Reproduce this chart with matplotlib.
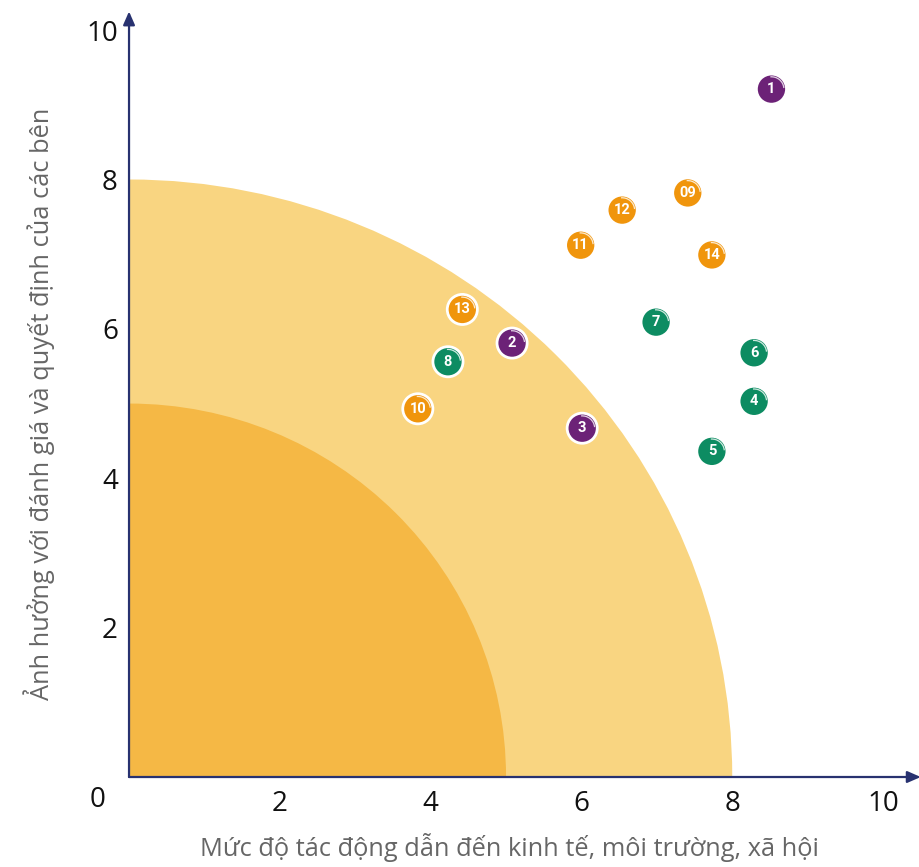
import matplotlib
matplotlib.use('Agg')
from matplotlib import pyplot as plt
from matplotlib.patches import Wedge, Arc

plt.rcParams['font.family'] = ['Open Sans', 'DejaVu Sans']

# stakeholder points
labels = ['1', '2', '3', '4', '5', '6', '7', '8', '09', '10', '11', '12', '13', '14']
x_vals = [8.52, 5.08, 6.01, 8.29, 7.73, 8.29, 6.99, 4.23, 7.41, 3.83, 5.99, 6.54, 4.42, 7.73]
y_vals = [9.21, 5.81, 4.67, 5.03, 4.36, 5.68, 6.09, 5.56, 7.82, 4.93, 7.12, 7.59, 6.26, 6.99]
groups = ['p', 'p', 'p', 'g', 'g', 'g', 'g', 'g', 'o', 'o', 'o', 'o', 'o', 'o']

GROUP_COLORS = {'p': '#6c2277', 'g': '#0d8c62', 'o': '#f0950c'}
AXIS_COLOR = '#283270'

ticks = [2, 4, 6, 8, 10]
zone_radii = [8, 5]
zone_colors = ['#f9d581', '#f5b845']

fig = plt.figure(figsize=(9.19, 8.67), dpi=100)
ax = fig.add_axes([0.1404, 0.1038, 0.8615, 0.883])
ax.set_xlim(0, 10.5)
ax.set_ylim(0, 10.25)

for r, c in zip(zone_radii, zone_colors):
    ax.add_patch(Wedge((0, 0), r, 0, 90, facecolor=c, edgecolor='none', zorder=1))

for sp in ax.spines.values():
    sp.set_visible(False)

# axes with arrow heads
ax.annotate('', xy=(1.0, 0), xycoords='axes fraction', xytext=(0, 0),
            arrowprops=dict(arrowstyle='-|>,head_length=0.8,head_width=0.35',
                            color=AXIS_COLOR, lw=1.6, shrinkA=0, shrinkB=0), zorder=3)
ax.annotate('', xy=(0, 1.0), xycoords='axes fraction', xytext=(0, 0),
            arrowprops=dict(arrowstyle='-|>,head_length=0.8,head_width=0.35',
                            color=AXIS_COLOR, lw=1.6, shrinkA=0, shrinkB=0), zorder=3)

ax.set_xticks(ticks)
ax.set_yticks(ticks)
ax.tick_params(length=0, labelsize=20, labelcolor='#111111')
ax.tick_params(axis='x', pad=9)
ax.tick_params(axis='y', pad=8)
ax.text(-0.42, -0.31, '0', fontsize=20, color='#111111', ha='center', va='center')

ax.set_xlabel('Mức độ tác động dẫn đến kinh tế, môi trường, xã hội',
              fontsize=18.3, color='#666666')
ax.xaxis.set_label_coords(0.481, -0.073)
ax.set_ylabel('Ảnh hưởng với đánh giá và quyết định của các bên',
              fontsize=18.3, color='#666666')
ax.yaxis.set_label_coords(-0.094, 0.487)

cols = [GROUP_COLORS[g] for g in groups]
ax.scatter(x_vals, y_vals, s=470, c=cols, edgecolors='white', linewidths=2, zorder=4)
for lab, x, y in zip(labels, x_vals, y_vals):
    # little glossy highlight
    ax.add_patch(Arc((x, y), 0.33, 0.33, theta1=5, theta2=95,
                     color='white', lw=0.9, alpha=0.8, zorder=5))
    ax.text(x, y, lab, ha='center', va='center', color='white',
            fontsize=10.5, fontweight='bold', family=['Roboto', 'DejaVu Sans'], zorder=6)

fig.savefig('out.png', dpi=100)
